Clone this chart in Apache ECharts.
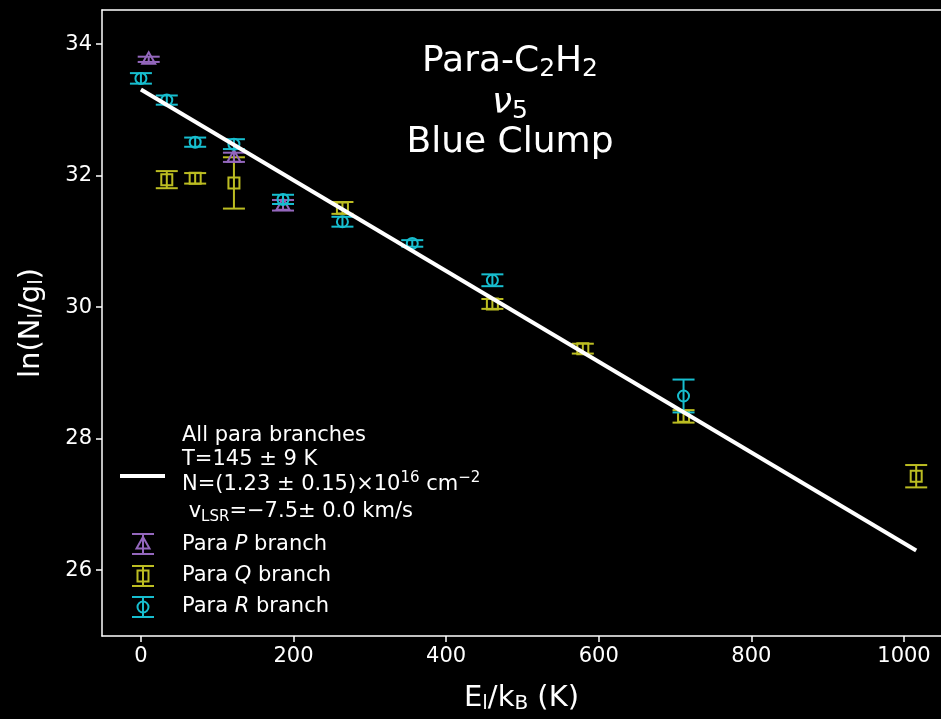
<!DOCTYPE html>
<html>
<head>
<meta charset="utf-8">
<script src="https://cdn.jsdelivr.net/npm/echarts@6/dist/echarts.min.js"></script>
<style>
  html, body { margin: 0; padding: 0; background: #000; }
  #chart { width: 941px; height: 719px; }
</style>
</head>
<body>
<div id="chart"></div>
<script>
// Rotational diagram of para-C2H2 nu5, Blue Clump
// Upper-level energy E_l/k_B (K), ln(N_l/g_l) and 1-sigma errors per branch
const pEnergy = [10.2, 121.9, 186.2];
const pLnN    = [33.77, 32.28, 31.55];
const pErr    = [0.04, 0.07, 0.08];

const qEnergy = [33.9, 71.1, 121.9, 264.1, 460.6, 579.1, 711.1, 1016.0];
const qLnN    = [31.94, 31.96, 31.89, 31.51, 30.05, 29.37, 28.34, 27.43];
const qErr    = [0.13, 0.08, 0.39, 0.09, 0.075, 0.075, 0.095, 0.17];

const rEnergy = [0, 33.9, 71.1, 121.9, 186.2, 264.1, 355.6, 460.6, 711.1];
const rLnN    = [33.48, 33.15, 32.51, 32.48, 31.64, 31.30, 30.97, 30.41, 28.65];
const rErr    = [0.08, 0.07, 0.07, 0.075, 0.07, 0.075, 0.05, 0.09, 0.25];

// Best-fit line (T = 145 K) end points
const fitEnergy = [0, 1016];
const fitLnN    = [33.31, 26.30];

const xTicks = [0, 200, 400, 600, 800, 1000];
const yTicks = [26, 28, 30, 32, 34];

const FONT = 'DejaVu Sans';
const COL_P = '#9467bd', COL_Q = '#bcbd22', COL_R = '#17becf';

function marker(kind, x, y, color) {
  const style = { fill: 'none', stroke: color, lineWidth: 2 };
  if (kind === 'circle') return { type: 'circle', shape: { cx: x, cy: y, r: 5.5 }, style };
  if (kind === 'square') return { type: 'rect', shape: { x: x - 5.5, y: y - 5.5, width: 11, height: 11 }, style };
  return { type: 'polygon', shape: { points: [[x, y - 7], [x + 6.5, y + 4.5], [x - 6.5, y + 4.5]] }, style };
}

function errorGlyph(kind, x, yc, yHi, yLo, color) {
  const ls = { stroke: color, lineWidth: 2 };
  const cap = 11;
  return [
    { type: 'line', shape: { x1: x, y1: yHi, x2: x, y2: yLo }, style: ls },
    { type: 'line', shape: { x1: x - cap, y1: yHi, x2: x + cap, y2: yHi }, style: ls },
    { type: 'line', shape: { x1: x - cap, y1: yLo, x2: x + cap, y2: yLo }, style: ls },
    marker(kind, x, yc, color)
  ];
}

function errorSeries(name, kind, color, xs, ys, es, z) {
  return {
    type: 'custom',
    name,
    z,
    data: xs.map((x, i) => [x, ys[i], es[i]]),
    encode: { x: 0, y: 1 },
    renderItem: (params, api) => {
      const x = api.value(0), y = api.value(1), e = api.value(2);
      const c = api.coord([x, y]);
      const hi = api.coord([x, y + e]);
      const lo = api.coord([x, y - e]);
      return { type: 'group', children: errorGlyph(kind, c[0], c[1], hi[1], lo[1], color) };
    }
  };
}

const subStyle = (size, shift) => ({ fontSize: size, fontFamily: FONT, color: '#fff', padding: [shift, 0, 0, 0] });
const supStyle = (size, shift) => ({ fontSize: size, fontFamily: FONT, color: '#fff', padding: [0, 0, shift, 0] });

const chart = echarts.init(document.getElementById('chart'));

const legendX = 182;
const legendFont = 21;
const legendText = (y, text, rich) => ({
  type: 'text', x: legendX, y: y, z: 20,
  style: {
    text, fill: '#fff', font: legendFont + 'px ' + FONT,
    textAlign: 'left', textVerticalAlign: 'middle',
    rich: Object.assign({ n: { fontSize: legendFont, fontFamily: FONT, color: '#fff' } }, rich || {})
  }
});

const legendIcon = (kind, color, cy) => ({
  type: 'group',
  children: errorGlyph(kind, 143, cy, cy - 10, cy + 10, color)
});

const titleText = (y, text, rich) => ({
  type: 'text', x: 510, y: y, z: 20,
  style: {
    text, fill: '#fff', font: '36px ' + FONT,
    textAlign: 'center', textVerticalAlign: 'middle',
    rich: rich || {}
  }
});

const italic = { fontSize: legendFont, fontFamily: FONT, fontStyle: 'italic', color: '#fff' };

chart.setOption({
  backgroundColor: '#000',
  animation: false,
  grid: { left: 102, right: 0, top: 10, bottom: 81, containLabel: false },
  xAxis: [{
    type: 'value', min: -51, max: 1048.5, position: 'bottom',
    name: 'E{s|l}/k{s|B} (K)', nameLocation: 'middle', nameGap: 46,
    nameTextStyle: {
      color: '#fff', fontSize: 29, fontFamily: FONT,
      rich: { s: subStyle(20, 12) }
    },
    axisLine: { show: true, onZero: false, lineStyle: { color: '#fff', width: 1.5 } },
    axisTick: { show: true, length: 6, customValues: xTicks, lineStyle: { color: '#fff', width: 1.5 } },
    axisLabel: {
      show: true, customValues: xTicks, color: '#fff', fontSize: 21, fontFamily: FONT, margin: 10,
      formatter: (v) => String(v)
    },
    splitLine: { show: false }
  }, {
    type: 'value', min: -51, max: 1048.5, position: 'top',
    axisLine: { show: true, onZero: false, lineStyle: { color: '#fff', width: 1.5 } },
    axisTick: { show: false }, axisLabel: { show: false }, splitLine: { show: false }
  }],
  yAxis: {
    type: 'value', min: 25, max: 34.52,
    name: 'ln(N{s|l}/g{s|l})', nameLocation: 'middle', nameGap: 55, nameRotate: 90,
    nameTextStyle: {
      color: '#fff', fontSize: 29, fontFamily: FONT,
      rich: { s: subStyle(20, 12) }
    },
    axisLine: { show: true, onZero: false, lineStyle: { color: '#fff', width: 1.5 } },
    axisTick: { show: true, length: 6, customValues: yTicks, lineStyle: { color: '#fff', width: 1.5 } },
    axisLabel: {
      show: true, customValues: yTicks, color: '#fff', fontSize: 21, fontFamily: FONT, margin: 10,
      formatter: (v) => String(v)
    },
    splitLine: { show: false }
  },
  series: [
    errorSeries('Para P branch', 'triangle', COL_P, pEnergy, pLnN, pErr, 3),
    errorSeries('Para Q branch', 'square', COL_Q, qEnergy, qLnN, qErr, 2),
    errorSeries('Para R branch', 'circle', COL_R, rEnergy, rLnN, rErr, 4),
    {
      type: 'line', name: 'All para branches', z: 10,
      data: fitEnergy.map((x, i) => [x, fitLnN[i]]),
      showSymbol: false, symbol: 'none',
      lineStyle: { color: '#fff', width: 4 }
    }
  ],
  graphic: [
    // Title block
    titleText(62, 'Para-C{s|2}H{s|2}', { s: subStyle(25, 14) }),
    titleText(104, '{nu|ν}{s|5}', {
      nu: { fontSize: 36, fontFamily: FONT, fontStyle: 'italic', color: '#fff' },
      s: subStyle(25, 14)
    }),
    titleText(143, 'Blue Clump'),
    // Legend: fit line entry
    { type: 'line', shape: { x1: 120, y1: 476, x2: 165, y2: 476 }, style: { stroke: '#fff', lineWidth: 4 } },
    legendText(436, 'All para branches'),
    legendText(460, 'T=145 ± 9 K'),
    legendText(485, 'N=(1.23 ± 0.15)×10{u|16} cm{u|−2}', { u: supStyle(15, 13) }),
    legendText(512, ' v{s|LSR}=−7.5± 0.0 km/s', { s: subStyle(15, 11) }),
    // Legend: branch entries
    legendIcon('triangle', COL_P, 544),
    legendIcon('square', COL_Q, 576),
    legendIcon('circle', COL_R, 607),
    legendText(545, 'Para {i|P} branch', { i: italic }),
    legendText(576, 'Para {i|Q} branch', { i: italic }),
    legendText(607, 'Para {i|R} branch', { i: italic })
  ]
});
</script>
</body>
</html>
